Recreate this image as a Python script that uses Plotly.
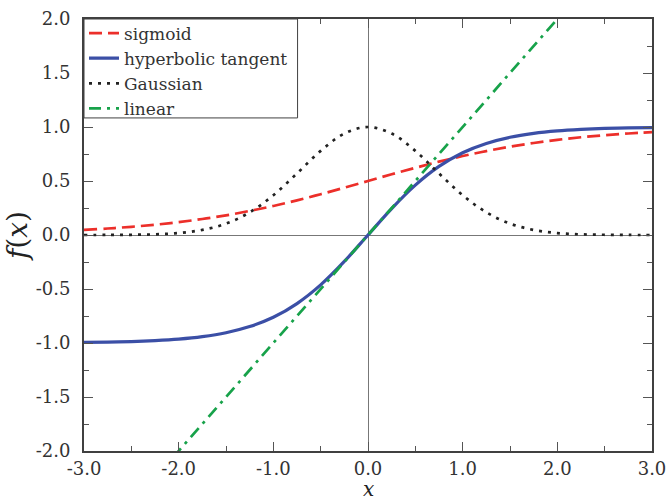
import plotly.graph_objects as go

# sample positions along x
x_vals = [-3.0, -2.75, -2.5, -2.25, -2.0, -1.75, -1.5, -1.25, -1.0, -0.75, -0.5, -0.25,
          0.0, 0.25, 0.5, 0.75, 1.0, 1.25, 1.5, 1.75, 2.0, 2.25, 2.5, 2.75, 3.0]

sigmoid_vals = [0.047, 0.060, 0.076, 0.095, 0.119, 0.148, 0.182, 0.223, 0.269, 0.321, 0.378, 0.438,
                0.500, 0.562, 0.622, 0.679, 0.731, 0.777, 0.818, 0.852, 0.881, 0.905, 0.924, 0.940, 0.953]

tanh_vals = [-0.995, -0.992, -0.987, -0.978, -0.964, -0.941, -0.905, -0.848, -0.762, -0.635, -0.462, -0.245,
             0.000, 0.245, 0.462, 0.635, 0.762, 0.848, 0.905, 0.941, 0.964, 0.978, 0.987, 0.992, 0.995]

gauss_vals = [0.0001, 0.0005, 0.002, 0.006, 0.018, 0.047, 0.105, 0.210, 0.368, 0.570, 0.779, 0.939,
              1.000, 0.939, 0.779, 0.570, 0.368, 0.210, 0.105, 0.047, 0.018, 0.006, 0.002, 0.0005, 0.0001]

linear_x = [-3.0, 3.0]
linear_vals = [-3.0, 3.0]

x_ticks = [-3.0, -2.0, -1.0, 0.0, 1.0, 2.0, 3.0]
x_tick_text = ["-3.0", "-2.0", "-1.0", "0.0", "1.0", "2.0", "3.0"]
y_ticks = [-2.0, -1.5, -1.0, -0.5, 0.0, 0.5, 1.0, 1.5, 2.0]
y_tick_text = ["-2.0", "-1.5", "-1.0", "-0.5", "0.0", "0.5", "1.0", "1.5", "2.0"]

serif = "DejaVu Serif"

fig = go.Figure()
fig.add_trace(go.Scatter(x=x_vals, y=sigmoid_vals, mode="lines", name="sigmoid",
                         line=dict(color="#ec2f2a", width=2.7, dash="13px,6px", shape="spline")))
fig.add_trace(go.Scatter(x=x_vals, y=tanh_vals, mode="lines", name="hyperbolic tangent",
                         line=dict(color="#3b4fa6", width=3.2, shape="spline")))
fig.add_trace(go.Scatter(x=x_vals, y=gauss_vals, mode="lines", name="Gaussian",
                         line=dict(color="#222222", width=2.7, dash="3px,6px", shape="spline")))
fig.add_trace(go.Scatter(x=linear_x, y=linear_vals, mode="lines", name="linear",
                         line=dict(color="#17a24a", width=2.7, dash="12px,6px,3px,6px")))

axis_common = dict(
    showgrid=False,
    showline=True, linecolor="#404040", linewidth=2, mirror="allticks",
    ticks="inside", ticklen=9, tickwidth=1, tickcolor="#555555",
    zeroline=True, zerolinecolor="#777777", zerolinewidth=1,
    tickfont=dict(family=serif, size=18, color="#333333"),
)

fig.update_xaxes(range=[-3, 3], tickvals=x_ticks, ticktext=x_tick_text,
                 minor=dict(dtick=0.5, ticks="inside", ticklen=5, tickcolor="#555555"),
                 ticklabelstandoff=0, **axis_common)
fig.update_yaxes(range=[-2, 2], tickvals=y_ticks, ticktext=y_tick_text,
                 minor=dict(dtick=0.25, ticks="inside", ticklen=5, tickcolor="#555555"),
                 title=dict(text="<i>f</i>(<i>x</i>)", font=dict(family=serif, size=28, color="#222222"), standoff=0),
                 ticklabelstandoff=8, **axis_common)

# x-axis title placed just under the tick labels
fig.add_annotation(text="<i>x</i>", xref="paper", yref="paper", x=0.5, y=0,
                   xanchor="center", yanchor="middle", yshift=-38, showarrow=False,
                   font=dict(family=serif, size=20, color="#222222"))

# legend frame (drawn as a box behind the legend entries)
fig.add_shape(type="rect", xref="paper", yref="paper",
              x0=0, x1=0.376, y0=0.771, y1=1.0,
              line=dict(color="#404040", width=1), fillcolor="white", layer="above")

fig.update_layout(
    width=667, height=502,
    font=dict(family=serif),
    margin=dict(l=84, r=15, t=19, b=51, autoexpand=False),
    paper_bgcolor="white", plot_bgcolor="white",
    legend=dict(x=0.0, y=1.008, xanchor="left", yanchor="top",
                bgcolor="rgba(0,0,0,0)", borderwidth=0,
                font=dict(family=serif, size=17, color="#333333"),
                itemwidth=30, tracegroupgap=0),
)

fig.write_html("out.html")
